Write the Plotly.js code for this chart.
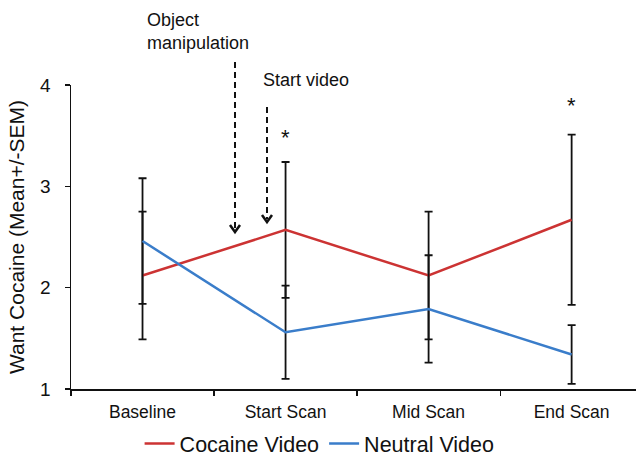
<!DOCTYPE html>
<html>
<head>
<meta charset="utf-8">
<script src="https://cdn.plot.ly/plotly-3.0.1.min.js"></script>
<style>html,body{margin:0;padding:0;background:#fff;}#chart{width:636px;height:464px;}</style>
</head>
<body>
<div id="chart"></div>
<script>
const categories = ["Baseline", "Start Scan", "Mid Scan", "End Scan"];
const cocaineMean = [2.12, 2.57, 2.12, 2.67];
const cocaineSEM  = [0.63, 0.67, 0.63, 0.84];
const neutralMean = [2.46, 1.56, 1.79, 1.34];
const neutralSEM  = [0.62, 0.46, 0.53, 0.29];
const yTicks = [1, 2, 3, 4];
const starCats = [1, 3];
const starY = [3.48, 3.80];

const xIdx = categories.map((c, i) => i);
const font = "Liberation Sans, Arial, Helvetica, sans-serif";

const errStyle = {type: 'data', visible: true, color: '#111', thickness: 1.8, width: 4};

const traces = [
  {
    x: xIdx, y: cocaineMean, name: 'Cocaine Video', type: 'scatter', mode: 'lines',
    line: {color: '#cc3333', width: 2.5},
    error_y: Object.assign({array: cocaineSEM}, errStyle),
    cliponaxis: false
  },
  {
    x: xIdx, y: neutralMean, name: 'Neutral Video', type: 'scatter', mode: 'lines',
    line: {color: '#3a7dca', width: 2.5},
    error_y: Object.assign({array: neutralSEM}, errStyle),
    cliponaxis: false
  }
];

function px2x(px) { return (px - 71) / 565; }
function py2y(py) { return (389 - py) / 304; }

const arrows = [
  {x: 235, top: 62, tip: 232},
  {x: 267, top: 107, tip: 222}
];
const shapes = [];
arrows.forEach(a => {
  const x = px2x(a.x);
  shapes.push({type: 'line', xref: 'paper', yref: 'paper', x0: x, x1: x, y0: py2y(a.top), y1: py2y(a.tip - 3),
    line: {color: '#111', width: 2, dash: '6px,4px'}});
  const dx = 5 / 565, dy = 7 / 304, ty = py2y(a.tip);
  shapes.push({type: 'path', xref: 'paper', yref: 'paper',
    path: `M ${x - dx} ${ty + dy} L ${x} ${ty} L ${x + dx} ${ty + dy}`,
    line: {color: '#111', width: 2.5}});
});

const annotations = [
  {xref: 'paper', yref: 'paper', x: px2x(145), y: py2y(8), xanchor: 'left', yanchor: 'top', align: 'left',
   text: 'Object<br>manipulation', showarrow: false, font: {family: font, size: 18, color: '#111'}},
  {xref: 'paper', yref: 'paper', x: px2x(261), y: py2y(68), xanchor: 'left', yanchor: 'top', align: 'left',
   text: 'Start video', showarrow: false, font: {family: font, size: 18, color: '#111'}}
];
starCats.forEach((c, i) => {
  annotations.push({xref: 'x', yref: 'y', x: c, y: starY[i], text: '*', showarrow: false,
    font: {family: font, size: 22, color: '#111'}});
});

const layout = {
  width: 636, height: 464,
  margin: {l: 71, r: 0, t: 85, b: 75},
  paper_bgcolor: '#fff', plot_bgcolor: '#fff',
  font: {family: font, color: '#111'},
  showlegend: true,
  legend: {orientation: 'h', x: 0.44, xanchor: 'center', yref: 'container', y: -0.015, yanchor: 'bottom',
    font: {family: font, size: 21.5, color: '#111'}, itemwidth: 30, tracegroupgap: 0},
  xaxis: {
    range: [-0.5, 3.45], tickvals: xIdx, ticktext: categories, ticks: '',
    showgrid: false, zeroline: false, showline: true, linecolor: '#111', linewidth: 1.5,
    tickfont: {family: font, size: 17.5, color: '#111'}, ticklabelstandoff: 6,
    minor: {tick0: -0.5, dtick: 1, ticks: 'outside', ticklen: 5, tickcolor: '#111', tickwidth: 1.2, showgrid: false},
    fixedrange: true, automargin: false
  },
  yaxis: {
    range: [1, 4], tickvals: yTicks, ticks: 'outside', ticklen: 5, tickcolor: '#111', tickwidth: 1.2,
    showgrid: false, zeroline: false, showline: true, linecolor: '#111', linewidth: 1.5,
    tickfont: {family: font, size: 19, color: '#111'}, ticklabelstandoff: 10,
    title: {text: 'Want Cocaine (Mean+/-SEM)', font: {family: font, size: 21, color: '#111'}, standoff: 10},
    automargin: false
  },
  shapes: shapes,
  annotations: annotations
};

Plotly.newPlot('chart', traces, layout, {displayModeBar: false, staticPlot: true});
</script>
</body>
</html>
